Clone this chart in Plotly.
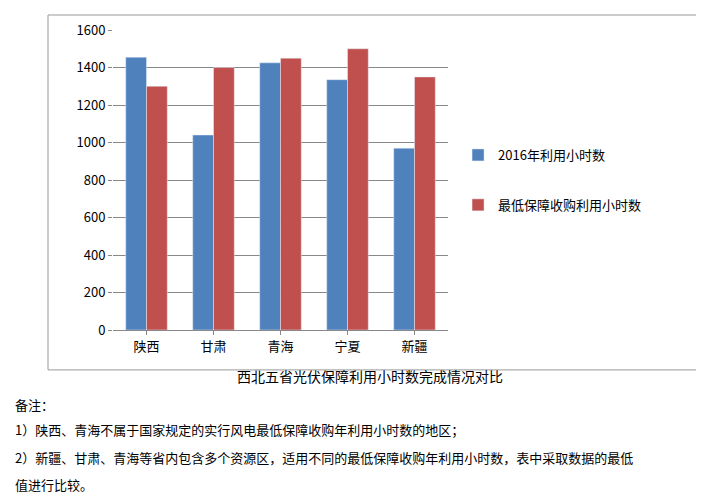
import plotly.graph_objects as go

provinces = ['陕西', '甘肃', '青海', '宁夏', '新疆']
hours_2016 = [1455, 1040, 1425, 1335, 970]
hours_min = [1300, 1400, 1450, 1500, 1350]
yticks = [0, 200, 400, 600, 800, 1000, 1200, 1400, 1600]

font = 'Noto Sans CJK SC'
fig = go.Figure()
fig.add_trace(go.Bar(x=provinces, y=hours_2016, name='2016年利用小时数', marker_color='#4F81BD',
                     legendgroup='a'))
fig.add_trace(go.Bar(x=provinces, y=hours_min, name='最低保障收购利用小时数', marker_color='#C0504D',
                     legendgroup='b'))

fig.update_layout(
    width=704, height=495,
    margin=dict(l=105, r=264, t=20, b=173),
    paper_bgcolor='white', plot_bgcolor='white',
    font=dict(family=font, size=13, color='black'),
    barmode='group', bargap=0.38, bargroupgap=0,
    legend=dict(x=1.03, y=0.5, yanchor='middle', tracegroupgap=30,
                font=dict(size=13), traceorder='grouped'),
    showlegend=True,
)
fig.update_yaxes(range=[0, 1600], tickvals=yticks, gridcolor='#888', gridwidth=1,
                 showline=False, ticks='outside', tickcolor='#888', ticklen=4)
fig.update_xaxes(showline=True, linecolor='#888', ticks='outside', tickcolor='#888', ticklen=4)

fig.add_shape(type='rect', xref='paper', yref='paper', x0=-0.194, x1=1.746, y0=-0.133, y1=1.05,
              line=dict(color='#999', width=1))
fig.add_annotation(text='西北五省光伏保障利用小时数完成情况对比', xref='paper', yref='paper',
                   x=0.767, xanchor='center', y=-0.193, showarrow=False, font=dict(size=14))
notes = ['备注：',
         '1）陕西、青海不属于国家规定的实行风电最低保障收购年利用小时数的地区；',
         '2）新疆、甘肃、青海等省内包含多个资源区，适用不同的最低保障收购年利用小时数，表中采取数据的最低',
         '值进行比较。']
for i, t in enumerate(notes):
    fig.add_annotation(text=t, xref='paper', yref='paper', x=-0.3, xanchor='left',
                       y=[-0.287, -0.37, -0.463, -0.553][i], showarrow=False, font=dict(size=13))

fig.write_html('out.html')
